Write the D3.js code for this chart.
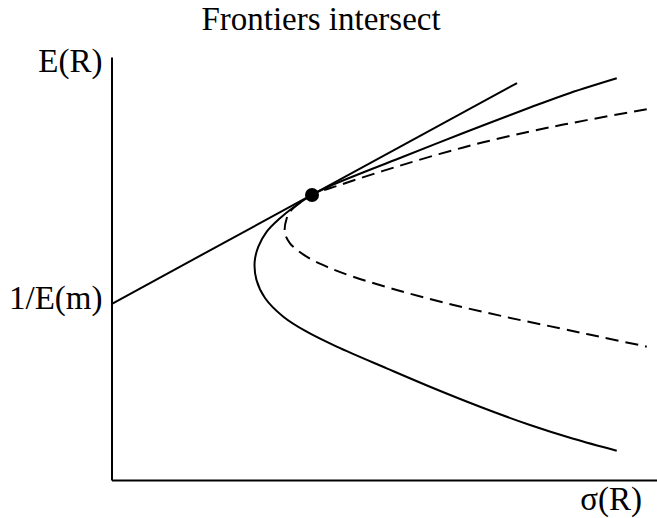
<!DOCTYPE html>
<html>
<head>
<meta charset="utf-8">
<script src="https://cdn.jsdelivr.net/npm/d3@7"></script>
<style>
    body { margin: 0; background: #fff; }
    text { font-family: "Liberation Serif", "Times New Roman", serif; fill: #000; }
</style>
</head>
<body>
<div id="chart"></div>
<script>
// Chart data (sigma, expected return)
var tangentLine = [[0, 16.64], [37.17, 37.54]];
var tangencyPoint = [18.38, 26.95];

// Solid frontier, from top of the upper branch to end of the lower branch
var solidFrontier = [
    [46.31, 37.99], [42.03, 36.60], [38.36, 35.22], [32.25, 32.81], [26.44, 30.45],
    [20.03, 27.80], [18.38, 26.95], [16.66, 25.77], [15.44, 24.75], [14.23, 23.48],
    [13.46, 22.06], [13.12, 20.61], [13.29, 18.91], [14.07, 17.21], [15.75, 15.44],
    [17.89, 14.02], [20.64, 12.61], [25.22, 10.56], [29.19, 8.82], [33.78, 6.93],
    [38.36, 5.20], [42.33, 3.90], [46.31, 2.77]
];

// Dashed frontier
var dashedFrontier = [
    [49.06, 35.05], [43.56, 34.03], [38.36, 32.96], [32.25, 31.45], [26.14, 29.63],
    [20.94, 27.90], [18.38, 26.95], [16.36, 25.37], [16.06, 24.75], [15.88, 23.45],
    [16.36, 22.38], [17.89, 21.12], [19.72, 20.17], [22.16, 19.22], [26.14, 17.97],
    [30.72, 16.71], [35.88, 15.48], [41.11, 14.34], [45.05, 13.48], [49.06, 12.61]
];

var titleText = 'Frontiers intersect',
    yLabel = 'E(R)',
    xLabel = '\u03C3(R)',
    interceptLabel = '1/E(m)';

var width = 657, height = 518,
    fontSize = 33,
    lineWidth = 2;

var svg = d3.select('#chart').append('svg')
    .attr('width', width)
    .attr('height', height);

var x = d3.scaleLinear().domain([0, 50]).range([111.5, 657]);
var y = d3.scaleLinear().domain([0, 40]).range([480, 57]);

// Axes - plain lines, no ticks
svg.append('g')
    .attr('transform', 'translate(' + x(0) + ',0)')
    .call(d3.axisLeft(y).tickValues([]).tickSizeOuter(0))
    .select('.domain').attr('stroke-width', lineWidth);

svg.append('g')
    .attr('transform', 'translate(0,' + y(0) + ')')
    .call(d3.axisBottom(x).tickValues([]).tickSizeOuter(0))
    .select('.domain').attr('stroke-width', lineWidth);

var line = d3.line()
    .x(function (d) { return x(d[0]); })
    .y(function (d) { return y(d[1]); });

// frontiers are drawn through the read points with a smooth curve
var smooth = d3.line()
    .x(function (d) { return x(d[0]); })
    .y(function (d) { return y(d[1]); })
    .curve(d3.curveCatmullRom.alpha(0.5));

svg.append('path')
    .datum(dashedFrontier)
    .attr('d', smooth)
    .attr('fill', 'none')
    .attr('stroke', '#000')
    .attr('stroke-width', lineWidth)
    .attr('stroke-dasharray', '13,7');

svg.append('path')
    .datum(solidFrontier)
    .attr('d', smooth)
    .attr('fill', 'none')
    .attr('stroke', '#000')
    .attr('stroke-width', lineWidth);

svg.append('path')
    .datum(tangentLine)
    .attr('d', line)
    .attr('fill', 'none')
    .attr('stroke', '#000')
    .attr('stroke-width', lineWidth);

svg.append('circle')
    .attr('cx', x(tangencyPoint[0]))
    .attr('cy', y(tangencyPoint[1]))
    .attr('r', 7)
    .attr('fill', '#000');

// Labels
svg.append('text')
    .attr('x', 321)
    .attr('y', 30)
    .attr('text-anchor', 'middle')
    .style('font-size', fontSize + 'px')
    .text(titleText);

svg.append('text')
    .attr('x', x(0) - 9)
    .attr('y', 72)
    .attr('text-anchor', 'end')
    .style('font-size', fontSize + 'px')
    .text(yLabel);

svg.append('text')
    .attr('x', x(0) - 9)
    .attr('y', y(tangentLine[0][1]) + 5)
    .attr('text-anchor', 'end')
    .style('font-size', fontSize + 'px')
    .text(interceptLabel);

svg.append('text')
    .attr('x', 642)
    .attr('y', 510)
    .attr('text-anchor', 'end')
    .style('font-size', fontSize + 'px')
    .text(xLabel);
</script>
</body>
</html>
